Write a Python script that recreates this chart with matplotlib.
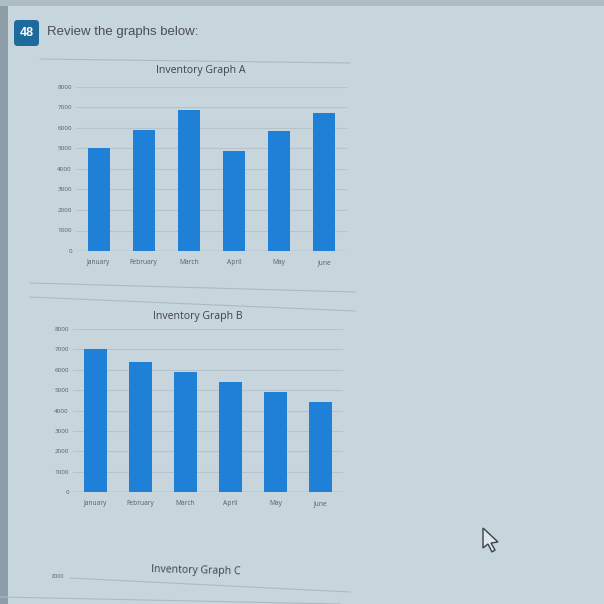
import matplotlib.pyplot as plt
from matplotlib.patches import FancyBboxPatch, Polygon, Rectangle
from matplotlib.lines import Line2D

# data
months = ["January", "February", "March", "April", "May", "June"]
graph_a = [5000, 5900, 6900, 4900, 5850, 6750]
graph_b = [7000, 6400, 5900, 5400, 4900, 4400]
y_ticks = [0, 1000, 2000, 3000, 4000, 5000, 6000, 7000, 8000]

W = H = 604
bg = "#c7d5dd"
bar_col = "#1f80d8"
grid_col = "#b6c3cb"
txt_col = "#5a5f63"
font = "Open Sans"

fig = plt.figure(figsize=(6.04, 6.04), dpi=100, facecolor=bg)


def fx(x):
    return x / W


def fy(y):
    return 1 - y / H


# darker edges of the photographed screen
fig.patches.append(Rectangle((0, 0), fx(8), 1, transform=fig.transFigure,
                             facecolor="#8e9ea8", edgecolor="none", zorder=0))
fig.patches.append(Rectangle((0, fy(6)), 1, fx(6), transform=fig.transFigure,
                             facecolor="#aebcc4", edgecolor="none", zorder=0))

# question header
fig.patches.append(FancyBboxPatch((fx(14), fy(46)), fx(25), fx(26),
                                  boxstyle="round,pad=0,rounding_size=0.006",
                                  transform=fig.transFigure,
                                  facecolor="#1f6a9c", edgecolor="none"))
fig.text(fx(26.5), fy(33), "48", color="white", fontsize=9, fontweight="bold",
         ha="center", va="center", family="Liberation Sans")
fig.text(fx(47), fy(32), "Review the graphs below:", color="#4a4f53",
         fontsize=9.5, ha="left", va="center", family="Liberation Sans")


def draw_chart(rect, values, title, title_xy):
    ax = fig.add_axes(rect)
    ax.set_facecolor("none")
    x = range(len(values))
    ax.bar(x, values, width=0.49, color=bar_col, zorder=3)
    ax.set_xlim(-0.5, len(values) - 0.5)
    ax.set_ylim(0, 8000)
    ax.set_yticks(y_ticks)
    ax.set_yticklabels([str(t) for t in y_ticks], fontsize=4.5, color=txt_col,
                       family=font)
    ax.set_xticks(list(x))
    ax.set_xticklabels(months, fontsize=4.8, color=txt_col, family=font)
    ax.tick_params(length=0, pad=6)
    ax.tick_params(axis="y", pad=3)
    ax.grid(axis="y", color=grid_col, lw=0.8, zorder=0)
    for s in ax.spines.values():
        s.set_visible(False)
    ax.axhline(0, color="#a9b5bd", lw=1, zorder=2)
    fig.text(fx(title_xy[0]), fy(title_xy[1]), title, fontsize=7.6,
             color="#3f4448", family=font, ha="center", va="center")
    return ax


draw_chart([fx(76), fy(251), fx(271), fx(164)], graph_a,
           "Inventory Graph A", (201, 71))
draw_chart([fx(73), fy(492), fx(270), fx(163)], graph_b,
           "Inventory Graph B", (198, 316))

# separator lines between the chart panels
for (x0, y0, x1, y1) in [(40, 59, 350, 63), (30, 283, 355, 292),
                         (30, 297, 355, 311), (70, 578, 350, 592),
                         (0, 597, 340, 604)]:
    fig.add_artist(Line2D([fx(x0), fx(x1)], [fy(y0), fy(y1)],
                          color="#adbac2", lw=0.8, transform=fig.transFigure))

# third chart, cut off at the bottom of the photo
fig.text(fx(196), fy(571), "Inventory Graph C", color="#3f4448", fontsize=7.6,
         ha="center", va="center", family=font, rotation=-1.5)
fig.text(fx(58), fy(577), "8000", color=txt_col, fontsize=4, ha="center",
         va="center", family=font)

# mouse cursor
cur = [(483, 528), (483, 548), (488, 544), (492, 552), (495, 550),
       (491, 543), (498, 542)]
fig.patches.append(Polygon([(fx(a), fy(b)) for a, b in cur], closed=True,
                           transform=fig.transFigure, facecolor="#dfe7ec",
                           edgecolor="#3c4246", lw=1))

fig.savefig("out.png", dpi=100, facecolor=bg)
